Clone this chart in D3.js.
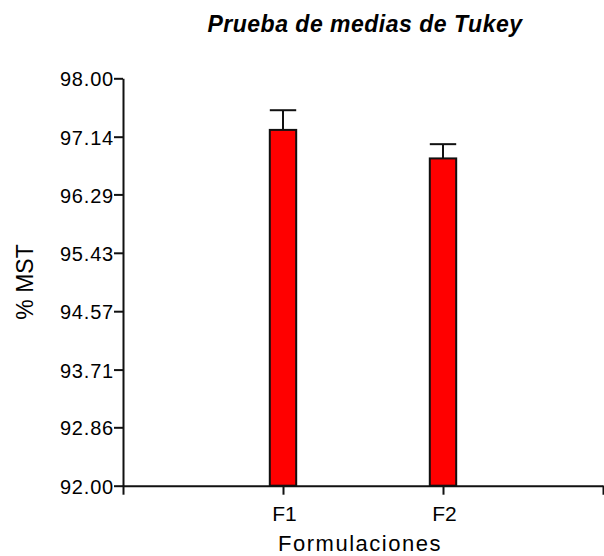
<!DOCTYPE html>
<html>
<head>
<meta charset="utf-8">
<script src="https://cdn.jsdelivr.net/npm/d3@7"></script>
<style>
  html, body { margin: 0; padding: 0; background: #fff; }
  svg { display: block; }
  text { font-family: "Liberation Sans", Arial, sans-serif; fill: #000; }
</style>
</head>
<body>
<svg id="chart" width="604" height="556"></svg>
<script>
// Formulation means with their standard error
const categories = ["F1", "F2"];
const means = [97.24, 96.82];
const errors = [0.29, 0.21];

// Y axis tick labels
const yTicks = [92.00, 92.86, 93.71, 94.57, 95.43, 96.29, 97.14, 98.00];
const yDomain = [92, 98];

const titleText = "Prueba de medias de Tukey";
const xTitle = "Formulaciones";
const yTitle = "% MST";

const svg = d3.select("#chart");
const margin = { left: 123, right: 1, top: 78.3, bottom: 70.3 };
const W = 604, H = 556;

const x = d3.scaleLinear()
  .domain([0, categories.length + 1])
  .range([margin.left, W - margin.right]);
const y = d3.scaleLinear()
  .domain(yDomain)
  .range([H - margin.bottom, margin.top]);

const barW = (x(1) - x(0)) * 0.165;

// bars with error bars (upper half only)
const g = svg.append("g");
const items = categories.map((c, i) => ({ c, i: i + 1, m: means[i], e: errors[i] }));

g.selectAll("line.err")
  .data(items).join("line")
  .attr("class", "err")
  .attr("x1", d => x(d.i)).attr("x2", d => x(d.i))
  .attr("y1", d => y(d.m)).attr("y2", d => y(d.m + d.e))
  .attr("stroke", "#111").attr("stroke-width", 2);

g.selectAll("line.cap")
  .data(items).join("line")
  .attr("class", "cap")
  .attr("x1", d => x(d.i) - barW / 2).attr("x2", d => x(d.i) + barW / 2)
  .attr("y1", d => y(d.m + d.e)).attr("y2", d => y(d.m + d.e))
  .attr("stroke", "#111").attr("stroke-width", 2);

g.selectAll("rect.bar")
  .data(items).join("rect")
  .attr("class", "bar")
  .attr("x", d => x(d.i) - barW / 2)
  .attr("width", barW)
  .attr("y", d => y(d.m))
  .attr("height", d => y(yDomain[0]) - y(d.m))
  .attr("fill", "#ff0000")
  .attr("stroke", "#111").attr("stroke-width", 2);

// axes
const yAxis = d3.axisLeft(y)
  .tickValues(yTicks)
  .tickFormat(d3.format(".2f"))
  .tickSize(9).tickSizeOuter(0).tickPadding(0);
const ya = svg.append("g")
  .attr("transform", `translate(${margin.left},0)`)
  .call(yAxis);
ya.selectAll("text")
  .attr("font-size", 20).attr("letter-spacing", 0.8)
  .attr("dy", "0.38em");

const xAxis = d3.axisBottom(x)
  .tickValues(d3.range(0, categories.length + 2))
  .tickFormat(i => categories[i - 1] || "")
  .tickSize(9).tickSizeOuter(0).tickPadding(11);
const xa = svg.append("g")
  .attr("transform", `translate(0,${y(yDomain[0])})`)
  .call(xAxis);
xa.selectAll("text")
  .attr("font-size", 21).attr("dx", "0.05em");

svg.selectAll(".domain, .tick line")
  .attr("stroke", "#111").attr("stroke-width", 2);

// titles
svg.append("text")
  .attr("x", 365).attr("y", 32)
  .attr("text-anchor", "middle")
  .attr("font-size", 23).attr("font-weight", "bold").attr("font-style", "italic")
  .attr("letter-spacing", 0.5)
  .text(titleText);

svg.append("text")
  .attr("x", 360).attr("y", 551)
  .attr("text-anchor", "middle")
  .attr("font-size", 22).attr("letter-spacing", 1.5)
  .text(xTitle);

svg.append("text")
  .attr("transform", `translate(32.5,${(y(yDomain[0]) + y(yDomain[1])) / 2}) rotate(-90)`)
  .attr("text-anchor", "middle")
  .attr("font-size", 23)
  .text(yTitle);
</script>
</body>
</html>
